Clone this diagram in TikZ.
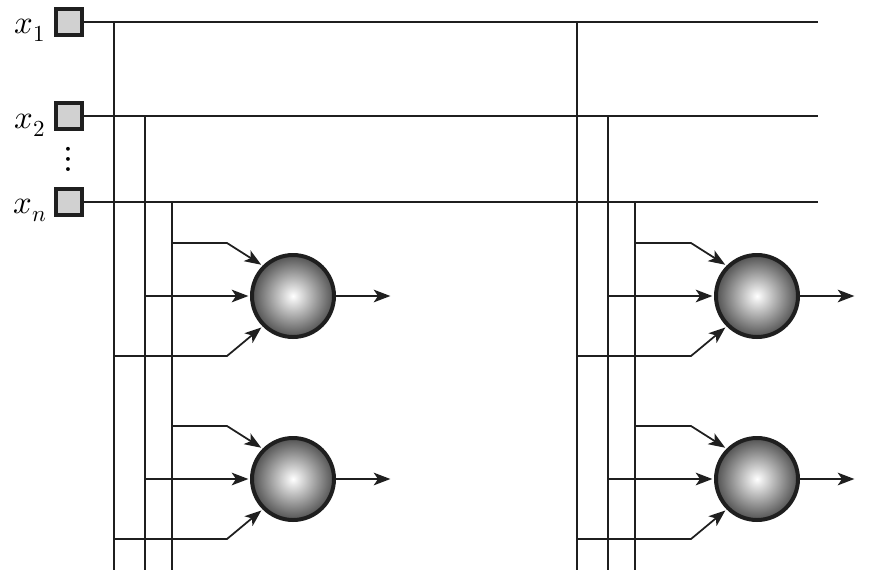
\documentclass[tikz,border=0pt]{standalone}
\usepackage{fontspec}
\usepackage{unicode-math}
\setmainfont{Liberation Serif}
\usetikzlibrary{arrows.meta, positioning}

\begin{document}
\begin{tikzpicture}[
  x=0.03cm, y=-0.03cm,
  inp/.style={rectangle, draw=black!88, fill=black!18, line width=3.6pt, minimum size=0.76cm, inner sep=0pt},
  lbl/.style={font=\fontsize{28}{34}\selectfont, inner sep=0pt},
  neuron/.style={circle, draw=black!88, line width=3.4pt, minimum size=2.46cm, inner sep=0pt, shading=radial, inner color=white, outer color=black!68},
  bus/.style={draw=black!88, line width=1.5pt},
  arr/.style={-{Stealth[length=0.5cm, width=0.38cm, inset=0.13cm]}, draw=black!88, line width=1.5pt, shorten >=1.4pt},
]
\useasboundingbox (0,0) rectangle (872,582);

%% Inputs
\node[inp] (x1) at (69, 22)  {};
\node[inp] (x2) at (69,116)  {};
\node[inp] (xn) at (69,202)  {};
\node[lbl, anchor=base east] (l1) at (46, 33) {$x_1$};
\node[lbl, anchor=base east] (l2) at (46,128) {$x_2$};
\node[lbl, anchor=base east] (ln) at (47,213) {$x_n$};
\node[inner sep=0pt] (dots) at (68,159) {\scalebox{3.1}{$\vdots$}};

%% Input lines
\coordinate (e1) at (818, 22);
\coordinate (e2) at (818,116);
\coordinate (en) at (818,202);
\draw[bus] (x1.east) -- (e1);
\draw[bus] (x2.east) -- (e2);
\draw[bus] (xn.east) -- (en);

%% Taps (left and right layer)
\foreach \g/\k in {0/l, 463/r} {
  \coordinate (\k t1) at (114+\g, 22);  \coordinate (\k b1) at (114+\g,570);
  \coordinate (\k t2) at (145+\g,116);  \coordinate (\k b2) at (145+\g,570);
  \coordinate (\k t3) at (172+\g,202);  \coordinate (\k b3) at (172+\g,570);
  \draw[bus] (\k t1) -- (\k b1);
  \draw[bus] (\k t2) -- (\k b2);
  \draw[bus] (\k t3) -- (\k b3);
}

%% Neurons
\foreach \g/\k in {0/l, 464/r} {
  \foreach \cy/\m in {296/1, 479/2} {
    \node[neuron] (\k\m) at (293+\g,\cy) {};
    \coordinate (\k\m i1) at (172+\g,\cy-53);
    \coordinate (\k\m j1) at (227+\g,\cy-53);
    \coordinate (\k\m i2) at (145+\g,\cy);
    \coordinate (\k\m i3) at (114+\g,\cy+60);
    \coordinate (\k\m j3) at (227+\g,\cy+60);
    \coordinate (\k\m o)  at (392+\g,\cy);
    \draw[arr] (\k\m i1) -- (\k\m j1) -- (\k\m.135);
    \draw[arr] (\k\m i2) -- (\k\m.west);
    \draw[arr] (\k\m i3) -- (\k\m j3) -- (\k\m.225);
    \draw[arr] (\k\m.east) -- (\k\m o);
  }
}
\end{tikzpicture}
\end{document}
